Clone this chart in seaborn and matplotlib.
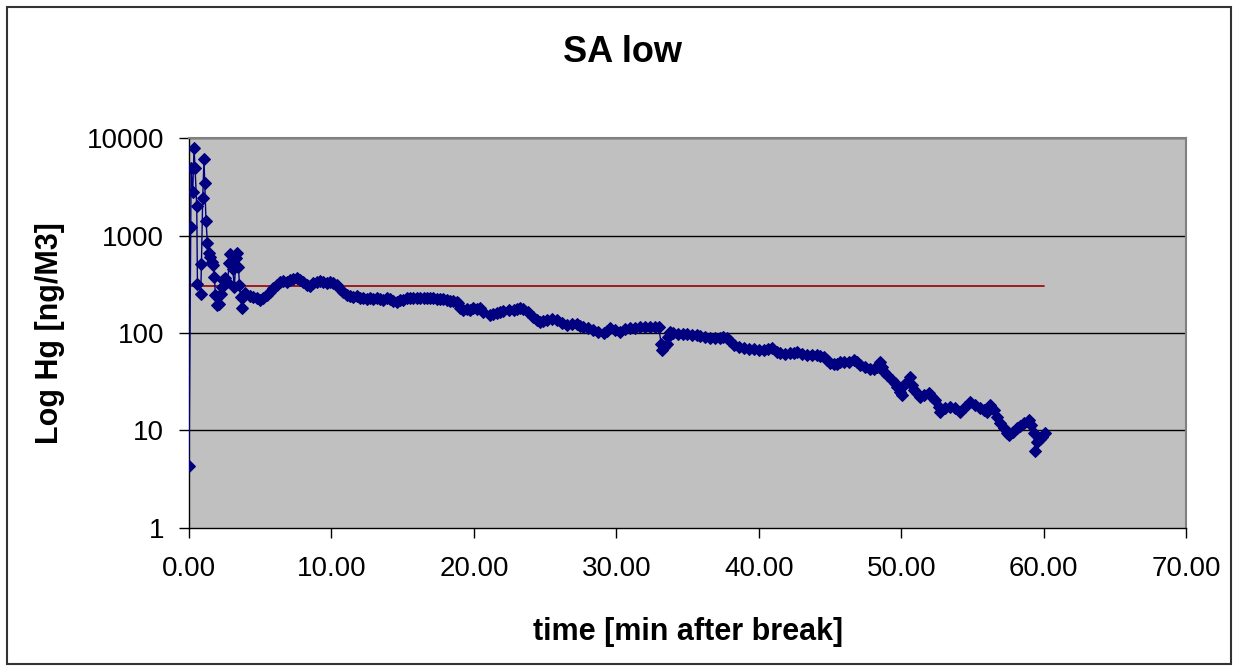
import numpy as np
import pandas as pd
import matplotlib
matplotlib.use('Agg')
import matplotlib.pyplot as plt
import seaborn as sns
from matplotlib.ticker import FixedLocator, FuncFormatter, NullLocator

# Readings taken off the chart: time [min after break] and Hg [ng/m3].
time_min = [
    0.00, 0.12, 0.14, 0.26, 0.35, 0.42, 0.54, 0.59, 0.82, 0.87,
    0.96, 1.05, 1.10, 1.19, 1.29, 1.38, 1.48, 1.59, 1.71, 1.78,
    1.85, 1.99, 2.13, 2.22, 2.32, 2.41, 2.55, 2.69, 2.83, 2.90,
    3.00, 3.07, 3.18, 3.30, 3.40, 3.47, 3.54, 3.63, 3.70, 3.82,
    3.96, 4.28, 4.52, 4.75, 4.98, 5.22, 5.45, 5.69, 5.92, 6.16,
    6.39, 6.62, 6.86, 7.09, 7.33, 7.56, 7.79, 8.03, 8.26, 8.50,
    8.73, 8.96, 9.20, 9.43, 9.67, 9.90, 10.13, 10.37, 10.60, 10.84,
    11.07, 11.31, 11.54, 11.77, 12.01, 12.24, 12.48, 12.71, 12.94, 13.18,
    13.41, 13.65, 13.88, 14.11, 14.35, 14.58, 14.82, 15.05, 15.29, 15.52,
    15.75, 15.99, 16.22, 16.46, 16.69, 16.92, 17.16, 17.39, 17.63, 17.86,
    18.09, 18.33, 18.56, 18.80, 18.91, 19.03, 19.26, 19.49, 19.73, 19.97,
    20.20, 20.43, 20.67, 21.14, 21.37, 21.61, 21.84, 22.07, 22.43, 22.78,
    23.01, 23.24, 23.48, 23.83, 24.18, 24.41, 24.65, 24.88, 25.12, 25.47,
    25.82, 26.17, 26.52, 26.87, 27.22, 27.46, 27.69, 28.04, 28.39, 28.74,
    29.10, 29.33, 29.57, 29.92, 30.27, 30.62, 30.97, 31.32, 31.67, 32.02,
    32.37, 32.72, 32.96, 33.15, 33.19, 33.36, 33.54, 33.66, 33.78, 34.01,
    34.36, 34.71, 34.95, 35.30, 35.65, 35.88, 36.24, 36.59, 36.94, 37.29,
    37.52, 37.76, 37.99, 38.23, 38.58, 38.93, 39.28, 39.63, 39.98, 40.33,
    40.68, 40.92, 41.27, 41.50, 41.85, 42.20, 42.44, 42.67, 43.02, 43.36,
    43.73, 44.08, 44.31, 44.55, 44.78, 45.01, 45.25, 45.48, 45.72, 45.95,
    46.30, 46.65, 46.89, 47.12, 47.47, 47.82, 48.06, 48.29, 48.52, 48.64,
    48.76, 48.99, 49.34, 49.58, 49.70, 49.93, 50.05, 50.16, 50.40, 50.63,
    50.75, 50.87, 51.10, 51.33, 51.62, 51.92, 52.15, 52.39, 52.62, 52.74,
    53.09, 53.44, 53.79, 54.14, 54.49, 54.85, 55.20, 55.55, 55.78, 56.02,
    56.25, 56.48, 56.72, 56.95, 57.19, 57.42, 57.54, 57.84, 58.12, 58.36,
    58.59, 58.94, 59.10, 59.29, 59.41, 59.53, 59.71, 59.88, 60.11,
]
hg_ng_m3 = [
    4.3, 1230, 4890, 2810, 7840, 4980, 2010, 318, 251, 506,
    2440, 6040, 3480, 1420, 844, 666, 607, 539, 497, 378,
    245, 194, 197, 251, 298, 350, 370, 336, 526, 645,
    539, 450, 298, 584, 666, 478, 310, 236, 179, 236,
    255, 241, 236, 227, 218, 227, 245, 265, 287, 311,
    331, 342, 336, 350, 358, 369, 350, 336, 311, 306,
    323, 336, 342, 331, 323, 331, 323, 311, 283, 265,
    245, 241, 236, 241, 230, 227, 223, 227, 223, 227,
    223, 218, 227, 223, 213, 210, 218, 218, 227, 230,
    227, 230, 227, 227, 227, 227, 227, 223, 223, 223,
    218, 213, 213, 210, 202, 179, 172, 176, 172, 179,
    176, 179, 165, 153, 155, 159, 163, 169, 172, 172,
    175, 179, 175, 166, 147, 136, 131, 134, 136, 138,
    136, 128, 121, 124, 124, 118, 114, 112, 107, 103,
    99, 106, 112, 107, 103, 109, 112, 112, 114, 114,
    116, 116, 116, 78, 67, 72, 78, 92, 103, 101,
    98, 98, 97, 95, 95, 93, 92, 88, 88, 88,
    90, 88, 82, 75, 72, 70, 69, 68, 67, 67,
    68, 70, 64, 62, 61, 62, 63, 64, 61, 60,
    60, 60, 58, 57, 53, 49, 48, 48, 50, 51,
    51, 53, 50, 47, 45, 43, 43, 45, 51, 45,
    40, 37, 33, 30.5, 28.2, 25.0, 23.1, 29.3, 31.7, 35.7,
    29.3, 26.0, 24.1, 22.2, 23.1, 24.1, 22.2, 20.5, 17.6, 15.6,
    16.9, 17.6, 16.9, 15.6, 17.6, 19.8, 18.3, 16.9, 16.2, 15.6,
    18.3, 16.2, 13.9, 12.0, 10.5, 9.4, 9.0, 9.7, 10.5, 11.1,
    11.8, 12.8, 11.4, 9.4, 6.1, 7.7, 8.1, 8.6, 9.4,
]

limit_time = [0.0, 60.0]
limit_value = [300, 300]

x_ticks = [0, 10, 20, 30, 40, 50, 60, 70]
y_ticks = [1, 10, 100, 1000, 10000]


def main():
    sns.set_style('white')
    plt.rcParams['font.family'] = ['Liberation Sans', 'DejaVu Sans']
    plt.rcParams['text.color'] = 'black'
    plt.rcParams['axes.labelcolor'] = 'black'
    plt.rcParams['xtick.color'] = 'black'
    plt.rcParams['ytick.color'] = 'black'

    df = pd.DataFrame({'time': time_min, 'hg': hg_ng_m3})
    limit_df = pd.DataFrame({'time': limit_time, 'hg': limit_value})

    fig = plt.figure(figsize=(12.38, 6.68), dpi=100)
    ax = fig.add_axes([0.1527, 0.2096, 0.8054, 0.5838])
    ax.set_facecolor('#C0C0C0')

    ax.set_yscale('log')
    ax.set_xlim(0, 70)
    ax.set_ylim(1, 10000)

    # gridlines at each decade
    for v in y_ticks[1:]:
        ax.axhline(v, color='black', lw=1, zorder=1)

    sns.lineplot(data=df, x='time', y='hg', ax=ax, color='#000080',
                 marker='D', markersize=6, markeredgecolor='#000080',
                 lw=1, sort=False, estimator=None, zorder=3)
    sns.lineplot(data=limit_df, x='time', y='hg', ax=ax, color='#990000',
                 lw=1.2, estimator=None, zorder=2)

    ax.xaxis.set_major_locator(FixedLocator(x_ticks))
    ax.yaxis.set_major_locator(FixedLocator(y_ticks))
    ax.yaxis.set_minor_locator(NullLocator())
    ax.xaxis.set_major_formatter(FuncFormatter(lambda v, p: f'{v:.2f}'))
    ax.yaxis.set_major_formatter(FuncFormatter(lambda v, p: f'{int(v)}'))
    ax.tick_params(axis='both', direction='out', length=7, width=1,
                   color='black', labelcolor='black', labelsize=20,
                   left=True, bottom=True)
    ax.tick_params(axis='x', pad=13)
    ax.tick_params(axis='y', pad=11)

    for side in ['left', 'bottom']:
        ax.spines[side].set_color('black')
        ax.spines[side].set_linewidth(1)
    for side in ['top', 'right']:
        ax.spines[side].set_color('#808080')
        ax.spines[side].set_linewidth(1.5)

    ax.set_xlabel('time [min after break]', fontsize=22, fontweight='bold',
                  va='center', color='black')
    ax.xaxis.set_label_coords(0.5, -0.267)
    ax.set_ylabel('Log Hg [ng/M3]', fontsize=22, fontweight='bold',
                  va='center', color='black')
    ax.yaxis.set_label_coords(-0.1394, 0.5)
    fig.text(0.503, 0.922, 'SA low', ha='center', va='center', fontsize=26,
             fontweight='bold', color='black')

    # chart border
    fig.patches.append(plt.Rectangle((0.006, 0.006), 0.988, 0.984,
                                     transform=fig.transFigure, fill=False,
                                     edgecolor='#333333', lw=1.5))

    fig.savefig('out.png', dpi=100)


if __name__ == '__main__':
    main()
